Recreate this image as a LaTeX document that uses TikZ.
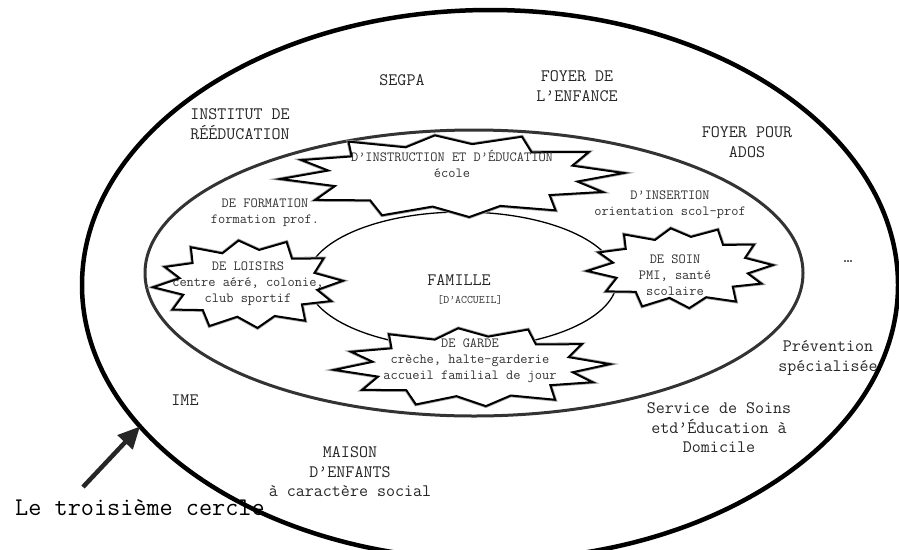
\documentclass[tikz,border=0pt]{standalone}
\usepackage{fontspec}
\usetikzlibrary{shapes.geometric,arrows.meta}

% burst outline, centred on #1, half width #2, half height #3
\newcommand{\burst}[3]{%
\begin{scope}[shift={(#1)}, x=#2pt, y=#3pt]
\draw[burstline] (4:1) -- (19:0.74) -- (35:0.97) -- (50:0.72) -- (66:1) -- (81:0.75)
  -- (96:0.95) -- (112:0.72) -- (127:1) -- (142:0.74) -- (157:0.95) -- (170:0.73)
  -- (184:1) -- (199:0.72) -- (215:0.97) -- (230:0.74) -- (246:1) -- (261:0.72)
  -- (276:0.96) -- (292:0.75) -- (307:1) -- (322:0.72) -- (337:0.95) -- (350:0.74)
  -- cycle;
\end{scope}}

\begin{document}
\begin{tikzpicture}[x=1pt,y=-1pt,
circlenode/.style={ellipse, draw=black, inner sep=0pt, outer sep=0pt},
burstline/.style={draw=black, fill=white, line width=2pt, line join=miter, preaction={draw=black!35, line width=3.6pt}},
boxnode/.style={rectangle, inner sep=0pt, outer sep=0pt},
bursttext/.style={align=center, font=\ttfamily\fontsize{14}{16}\selectfont, text=black!80, inner sep=0pt},
labelnode/.style={align=center, font=\ttfamily\fontsize{17.5}{19.5}\selectfont, text=black!85, inner sep=0pt},
]
\clip (0,0) rectangle (899,549);

%Circles
\node[circlenode, line width=4.5pt, minimum width=816pt, minimum height=550pt] (third) at (490,285) {};
\node[circlenode, line width=3pt, draw=black!80, minimum width=658pt, minimum height=286pt] (second) at (474,273) {};
\node[circlenode, line width=1.3pt, minimum width=310pt, minimum height=136pt] (first) at (462,280) {};

%Bursts
\node[boxnode, minimum width=345pt, minimum height=86pt] (instruction) at (452,176) {};
\node[boxnode, minimum width=190pt, minimum height=92pt] (loisirs) at (248,284) {};
\node[boxnode, minimum width=186pt, minimum height=84pt] (soin) at (680,268) {};
\node[boxnode, minimum width=277pt, minimum height=82pt] (garde) at (472,367) {};
\burst{instruction}{172}{43}
\burst{loisirs}{95}{46}
\burst{soin}{93}{42}
\burst{garde}{138}{41}

\node[bursttext] (instructiontxt) at ([yshift=12pt]instruction.center) {D’INSTRUCTION ET D’ÉDUCATION\\école};
\node[bursttext] (loisirstxt) at (loisirs.center) {DE LOISIRS\\centre aéré, colonie,\\club sportif};
\node[bursttext] (sointxt) at ([xshift=-5pt,yshift=-7pt]soin.center) {DE SOIN\\PMI, santé\\scolaire};
\node[bursttext] (gardetxt) at ([xshift=-2pt,yshift=6pt]garde.center) {DE GARDE\\crèche, halte-garderie\\accueil familial de jour};

%Labels
\node[bursttext] (formation) at (265,213) {DE FORMATION\\formation prof.};
\node[bursttext] (insertion) at (670,205) {D’INSERTION\\orientation scol-prof};
\node[labelnode] (famille) at (459,280) {FAMILLE};
\node[bursttext, font=\ttfamily\fontsize{11.5}{13}\selectfont] (accueil) at (470,300) {[D’ACCUEIL]};

\node[labelnode] (segpa) at (402,80) {SEGPA};
\node[labelnode] (foyerenf) at (577,86) {FOYER DE\\L’ENFANCE};
\node[labelnode] (institut) at (240,124) {INSTITUT DE\\RÉÉDUCATION};
\node[labelnode] (foyerados) at (747,142) {FOYER POUR\\ADOS};
\node[labelnode] (etc) at (848,262) {…};
\node[labelnode] (prevention) at (828,358) {Prévention\\spécialisée};
\node[labelnode] (ime) at (185,400) {IME};
\node[labelnode] (sessad) at (719,428) {Service de Soins\\etd’Éducation à\\Domicile};
\node[labelnode] (maison) at (350,472) {MAISON\\D’ENFANTS\\à caractère social};

%Arrow
\node[labelnode, font=\ttfamily\fontsize{25.5}{28}\selectfont, text=black] (troisieme) at (140,508) {Le troisième cercle};
\coordinate (arrowtail) at (83,487);
\draw[line width=4.5pt, black!85, -{Triangle[length=22pt,width=20pt]}] (arrowtail) -- (third.202);
\end{tikzpicture}
\end{document}
